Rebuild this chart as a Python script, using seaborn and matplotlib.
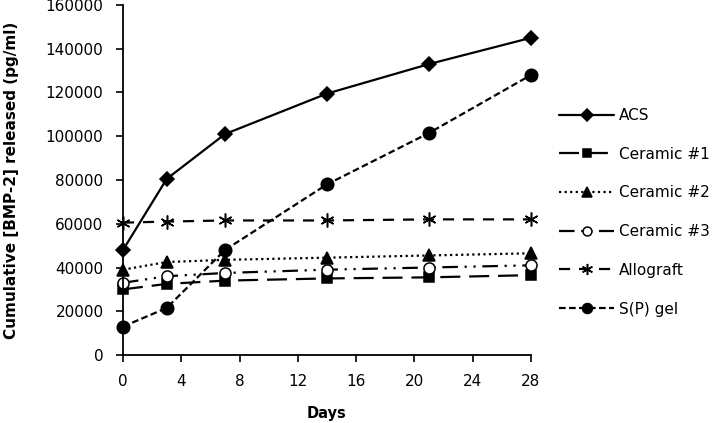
import matplotlib
matplotlib.use('Agg')
import seaborn as sns
import matplotlib.pyplot as plt

# values
days = [0, 3, 7, 14, 21, 28]
acs = [48000, 80500, 101000, 119500, 133000, 145000]
ceramic1 = [30000, 32500, 34000, 35000, 35500, 36500]
ceramic2 = [39000, 42500, 43500, 44500, 45500, 46500]
ceramic3 = [33000, 36000, 37500, 39000, 40000, 41000]
allograft = [60500, 61000, 61500, 61500, 62000, 62000]
sp_gel = [13000, 21500, 48000, 78000, 101500, 128000]

series_names = ['ACS', 'Ceramic #1', 'Ceramic #2', 'Ceramic #3', 'Allograft', 'S(P) gel']
series_values = [acs, ceramic1, ceramic2, ceramic3, allograft, sp_gel]

x_ticks = [0, 4, 8, 12, 16, 20, 24, 28]
y_ticks = [0, 20000, 40000, 60000, 80000, 100000, 120000, 140000, 160000]

styles = {
    'ACS': dict(marker='D', markersize=7.5, linestyle='-', markerfacecolor='k'),
    'Ceramic #1': dict(marker='s', markersize=7.5, linestyle=(0, (9, 4)), markerfacecolor='k'),
    'Ceramic #2': dict(marker='^', markersize=8.5, linestyle=(0, (1, 1.5)), markerfacecolor='k'),
    'Ceramic #3': dict(marker='o', markersize=8, linestyle=(0, (7, 3, 1, 3, 1, 3)), markerfacecolor='white'),
    'Allograft': dict(marker=(6, 2, 0), markersize=10, linestyle=(0, (5, 4)), markerfacecolor='k'),
    'S(P) gel': dict(marker='o', markersize=9, linestyle=(0, (3, 1.5)), markerfacecolor='k'),
}

sns.set_style('ticks')
plt.rcParams['font.family'] = ['DejaVu Sans']
plt.rcParams['text.color'] = 'k'

fig = plt.figure(figsize=(7.14, 4.23), dpi=100)
ax = fig.add_axes([123 / 714, 1 - 355 / 423, 408 / 714, 350 / 423])

for name, vals in zip(series_names, series_values):
    st = styles[name]
    sns.lineplot(x=days, y=vals, ax=ax, color='k', linewidth=1.6,
                 marker=st['marker'], markersize=st['markersize'],
                 markerfacecolor=st['markerfacecolor'], markeredgecolor='k',
                 markeredgewidth=1.1, linestyle=st['linestyle'],
                 label=name, clip_on=False)

ax.set_xlim(0, 28)
ax.set_ylim(0, 160000)
ax.set_xticks(x_ticks)
ax.set_yticks(y_ticks)
ax.tick_params(axis='both', direction='out', length=5, width=1.2, pad=9,
               labelsize=11, colors='k')
for side in ['left', 'bottom']:
    ax.spines[side].set_linewidth(1.3)
    ax.spines[side].set_color('k')
sns.despine(ax=ax)

ax.set_xlabel('Days', fontsize=10.5, fontweight='bold', labelpad=12, color='k')
ax.set_ylabel('Cumulative [BMP-2] released (pg/ml)', fontsize=11, fontweight='bold', color='k')
ax.yaxis.set_label_coords(-0.256, 0.5)

leg = ax.legend(loc='upper left', bbox_to_anchor=(553 / 714, 1 - 102 / 423),
                bbox_transform=fig.transFigure, frameon=False, fontsize=11,
                handlelength=3.6, handletextpad=0.3, labelspacing=1.55,
                borderaxespad=0, markerscale=0.8)
for t in leg.get_texts():
    t.set_color('k')

fig.savefig('out.png', dpi=100)
